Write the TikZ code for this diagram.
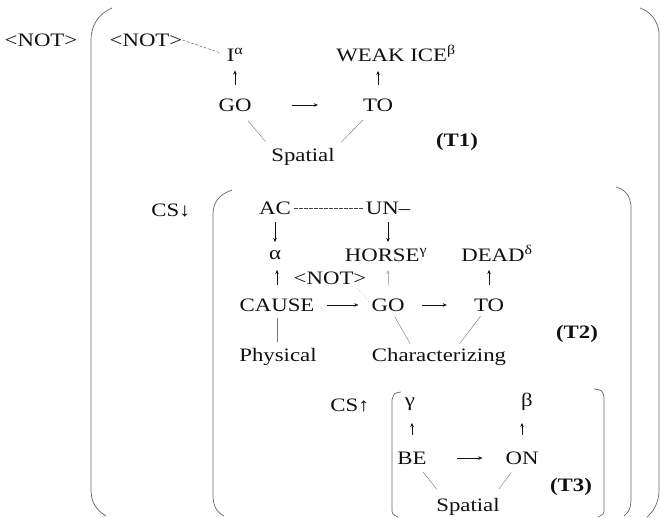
\documentclass[tikz,border=0pt]{standalone}
\usepackage{fontspec}
\setmainfont[FakeStretch=1.2]{Liberation Serif}
\usepackage{xcolor}
\usetikzlibrary{arrows.meta}
\definecolor{ink}{HTML}{111111}

\begin{document}
\begin{tikzpicture}[x=1pt,y=-1pt,
  every node/.style={font=\fontsize{19}{22}\selectfont,inner sep=0pt,text height=12.5pt,text depth=0pt,text=ink},
  tag/.style={font=\fontsize{19}{22}\selectfont\bfseries},
  arrow/.style={-{Stealth[length=4pt,width=3.5pt]},thin,draw=ink},
  link/.style={thin,draw=black!55},
  brk/.style={draw=black!60,line width=0.7pt}
]
\useasboundingbox (0,0) rectangle (660,518);

% outer bracket
\draw[brk] (112,8) .. controls (98,14) and (91,26) .. (91,40) -- (91,490) .. controls (91,502) and (96,510) .. (106,516);
\draw[brk] (640,8) .. controls (651,12) and (657,20) .. (659,32) -- (659,490) .. controls (659,502) and (654,511) .. (647,517);
\node (notA) at (41,40) {<NOT>};
\node (notB) at (146,40) {<NOT>};
\node (iA) at (235,55) {I\textsuperscript{α}};
\node (ice) at (396,55) {WEAK ICE\textsuperscript{β}};
\node (goA) at (235,105) {GO};
\node (toA) at (378,105) {TO};
\node (spA) at (303,155) {Spatial};
\node[tag] (tA) at (457,140) {(T1)};
\draw[link,draw=black!70,dash pattern=on 3pt off 1.5pt,shorten >=6pt] (notB.east) -- (iA.west);
\draw[arrow,shorten <=14pt,shorten >=9pt] (goA) -- (iA);
\draw[arrow,shorten <=14pt,shorten >=16pt] (toA) -- (toA |- ice);
\draw[arrow,shorten <=40pt,shorten >=45pt] (goA) -- (toA);
\draw[link,shorten <=12pt,shorten >=9pt] (goA) -- (spA.north west);
\draw[link,shorten <=12pt,shorten >=9pt] (toA) -- (spA.north east);

% middle bracket
\draw[brk] (232,190) .. controls (218,195) and (213,203) .. (213,215) -- (213,495) .. controls (213,505) and (216,512) .. (224,516);
\draw[brk] (616,187) .. controls (626,190) and (630,196) .. (631,206) -- (631,498) .. controls (631,508) and (629,512) .. (624,516);
\node (csD) at (171,210) {CS↓};
\node (ac) at (275,208) {AC};
\node (un) at (388,208) {UN–};
\node (alpha) at (275,253) {α};
\node (horse) at (386,255) {HORSE\textsuperscript{γ}};
\node (dead) at (497,255) {DEAD\textsuperscript{δ}};
\node (notC) at (330,278) {<NOT>};
\node (cause) at (277,305) {CAUSE};
\node (goB) at (388,305) {GO};
\node (toB) at (489,305) {TO};
\node (phys) at (278,355) {Physical};
\node (chara) at (439,355) {Characterizing};
\node[tag] (tB) at (577,332) {(T2)};
\draw[link,draw=black!75,dash pattern=on 3.5pt off 1.5pt,shorten <=3pt,shorten >=3pt] (ac) -- (un);
\draw[arrow,shorten <=8pt,shorten >=11pt] (ac) -- (ac |- alpha);
\draw[arrow,shorten <=8pt,shorten >=13pt] (un) -- (un |- horse);
\draw[arrow,shorten <=14pt,shorten >=17pt] (cause) -- (cause |- alpha);
\draw[arrow,draw=black!30,shorten <=14pt,shorten >=15pt] (goB) -- (goB |- horse);
\draw[arrow,shorten <=14pt,shorten >=15pt] (toB) -- (toB |- dead);
\draw[arrow,shorten <=12pt,shorten >=13pt] (cause) -- (goB);
\draw[arrow,shorten <=17pt,shorten >=27pt] (goB) -- (toB);
\draw[link,dotted,shorten <=5pt,shorten >=3pt] ([xshift=-12pt]notC.south east) -- (goB.west);
\draw[link,shorten <=7pt,shorten >=13pt] (cause) -- (cause |- phys);
\draw[link,shorten <=6pt,shorten >=6pt] (goB) -- ([xshift=-26pt]chara.north);
\draw[link,shorten <=6pt,shorten >=6pt] (toB) -- ([xshift=17pt]chara.north);

% inner bracket
\draw[brk] (401,392) .. controls (394,393) .. (392,400) -- (392,508) .. controls (392,514) .. (398,517);
\draw[brk] (594,389) .. controls (602,390) .. (604,397) -- (604,508) .. controls (604,514) .. (598,517);
\node (csU) at (350,405) {CS↑};
\node (gam) at (410,400) {γ};
\node (bet) at (527,400) {β};
\node (be) at (412,458) {BE};
\node (on) at (522,458) {ON};
\node (spC) at (468,505) {Spatial};
\node[tag] (tC) at (571,485) {(T3)};
\draw[arrow,shorten <=17pt,shorten >=23pt] (be) -- (be |- gam);
\draw[arrow,shorten <=17pt,shorten >=23pt] (on) -- (on |- bet);
\draw[arrow,shorten <=30pt,shorten >=23pt] (be) -- (on);
\draw[link,shorten <=10pt,shorten >=12pt] (be) -- ([xshift=8pt]spC.north west);
\draw[link,shorten <=10pt,shorten >=12pt] (on) -- ([xshift=-8pt]spC.north east);
\end{tikzpicture}
\end{document}
